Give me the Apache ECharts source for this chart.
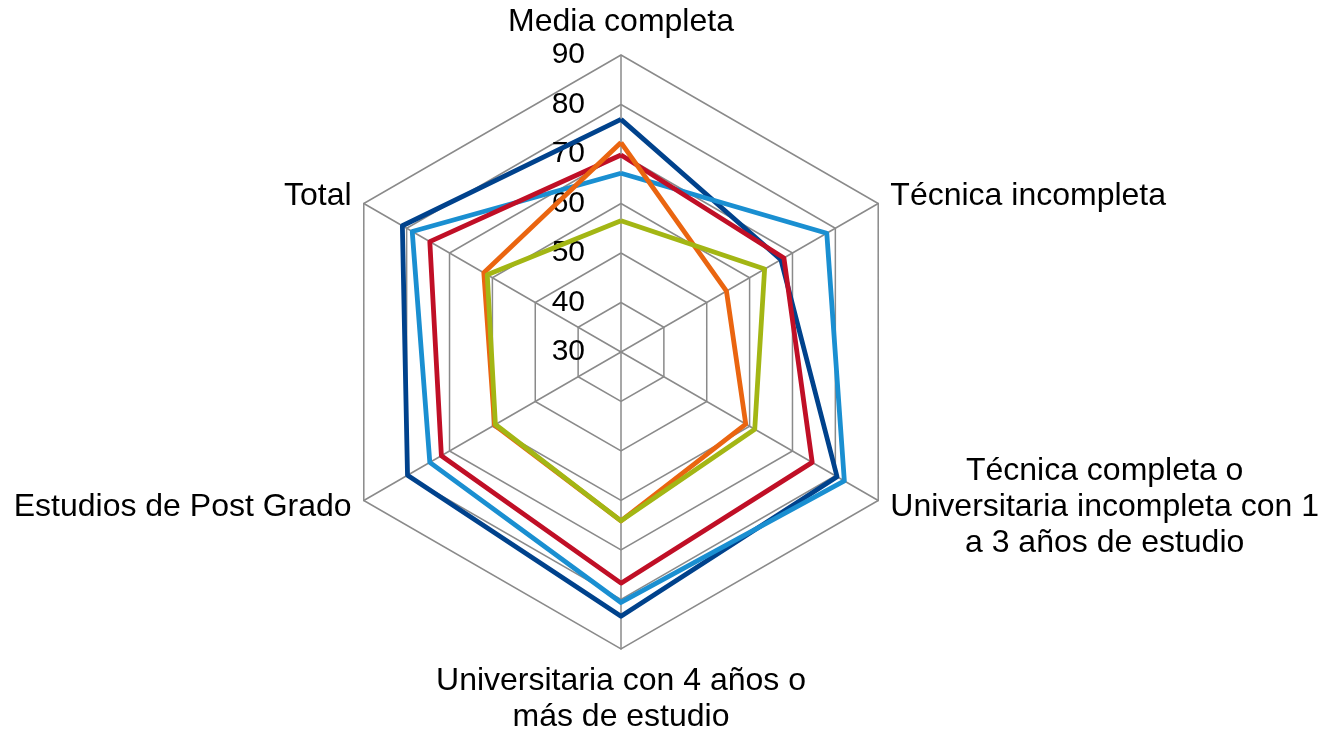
<!DOCTYPE html>
<html>
<head>
<meta charset="UTF-8">
<title>Radar</title>
<style type="text/css">
html, body {
	margin: 0;
	padding: 0;
	background: #ffffff;
}
#main {
	width: 1322px;
	height: 732px;
}
</style>
</head>
<body>
	<div id="main"></div>
	<script type="text/javascript" src="https://cdn.jsdelivr.net/npm/echarts@6/dist/echarts.min.js"></script>
	<script type="text/javascript">
	// categorias en el orden del grafico (sentido horario desde arriba)
	var categories = [ "Media completa", "Técnica incompleta",
			"Técnica completa o\nUniversitaria incompleta con 1\na 3 años de estudio",
			"Universitaria con 4 años o\nmás de estudio", "Estudios de Post Grado", "Total" ];
	var tickMin = 30;
	var tickMax = 90;

	var serie1 = [ 77.0, 67.3, 80.4, 83.4, 79.8, 81.0 ]; // azul oscuro
	var serie2 = [ 66.1, 78.0, 82.1, 80.6, 74.6, 78.7 ]; // azul claro
	var serie3 = [ 69.8, 68.0, 74.6, 76.7, 71.9, 74.6 ]; // rojo
	var serie4 = [ 72.3, 54.6, 59.1, 64.1, 59.5, 62.0 ]; // naranjo
	var serie5 = [ 56.5, 63.5, 61.2, 64.1, 59.3, 61.2 ]; // verde

	var colors = [ '#00428c', '#1a8fd1', '#c00f26', '#ea6510', '#a3b614' ];
	var allSeries = [ serie1, serie2, serie3, serie4, serie5 ];

	// echarts dibuja los ejes en sentido antihorario, se reordena
	var order = [ 0, 5, 4, 3, 2, 1 ];

	function reorder(arr) {
		var out = [];
		for (var i = 0; i < order.length; i++) {
			out.push(arr[order[i]]);
		}
		return out;
	}

	var indicator = [];
	for (var i = 0; i < order.length; i++) {
		var ind = {
			name : categories[order[i]],
			min : tickMin,
			max : tickMax
		};
		if (i == 0) {
			ind.axisLabel = {
				show : true
			};
		}
		indicator.push(ind);
	}

	var seriesData = [];
	for (var s = 0; s < allSeries.length; s++) {
		seriesData.push({
			name : 'Serie ' + (s + 1),
			value : reorder(allSeries[s]),
			symbol : 'none',
			lineStyle : {
				color : colors[s],
				width : 4.8
			}
		});
	}

	var chart = echarts.init(document.getElementById('main'));
	var option = {
		animation : false,
		backgroundColor : '#ffffff',
		textStyle : {
			fontFamily : 'Liberation Sans, Arial, sans-serif'
		},
		radar : {
			center : [ 621, 352 ],
			radius : 297,
			startAngle : 90,
			splitNumber : 6,
			shape : 'polygon',
			nameGap : 14,
			axisName : {
				color : '#000000',
				fontSize : 32,
				lineHeight : 37,
				fontFamily : 'Liberation Sans, Arial, sans-serif',
				formatter : function(name) {
					var lines = name.split('\n');
					return lines.map(function(l) {
						return '{c|' + l + '}';
					}).join('\n');
				},
				rich : {
					c : {
						align : 'center',
						fontSize : 32,
						lineHeight : 36,
						color : '#000000',
						fontFamily : 'Liberation Sans, Arial, sans-serif'
					}
				}
			},
			axisLabel : {
				show : false,
				color : '#000000',
				fontSize : 30,
				margin : 36,
				fontFamily : 'Liberation Sans, Arial, sans-serif'
			},
			axisTick : {
				show : false
			},
			axisLine : {
				lineStyle : {
					color : '#8a8a8a',
					width : 1.5
				}
			},
			splitLine : {
				lineStyle : {
					color : '#8a8a8a',
					width : 1.5
				}
			},
			splitArea : {
				show : false
			},
			indicator : indicator
		},
		series : [ {
			type : 'radar',
			data : seriesData
		} ]
	};
	chart.setOption(option);
	</script>
</body>
</html>
